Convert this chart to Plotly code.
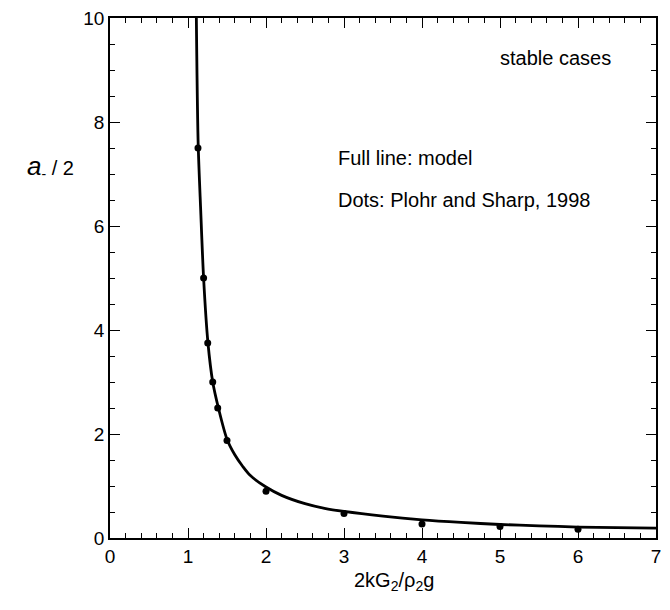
import plotly.graph_objects as go

# Model curve
model_x = [1.107, 1.13, 1.163, 1.2, 1.256, 1.317, 1.39, 1.5, 1.6, 1.7, 1.8, 2.0, 2.2, 2.5, 2.75, 3.0, 3.5, 4.0, 4.5, 5.0, 5.5, 6.0, 6.5, 7.0]
model_y = [10.0, 7.6, 6.3, 5.0, 3.75, 3.0, 2.5, 1.9, 1.6, 1.38, 1.2, 0.98, 0.82, 0.66, 0.57, 0.51, 0.42, 0.35, 0.3, 0.26, 0.235, 0.21, 0.2, 0.19]

# Plohr and Sharp, 1998 dots
dots_x = [1.128, 1.2, 1.253, 1.317, 1.381, 1.5, 2.0, 3.0, 4.0, 5.0, 6.0]
dots_y = [7.5, 5.0, 3.75, 3.0, 2.5, 1.875, 0.9, 0.47, 0.27, 0.22, 0.17]

x_ticks = [0, 1, 2, 3, 4, 5, 6, 7]
y_ticks = [0, 2, 4, 6, 8, 10]

FONT = "Liberation Sans, Arial, sans-serif"

fig = go.Figure()
fig.add_trace(go.Scatter(x=model_x, y=model_y, mode="lines",
                         line=dict(color="black", width=2.8, shape="spline", smoothing=0.8),
                         hoverinfo="skip", showlegend=False))
fig.add_trace(go.Scatter(x=dots_x, y=dots_y, mode="markers",
                         marker=dict(color="black", size=7), showlegend=False))

axis_common = dict(
    showgrid=False, zeroline=False, showline=True, linecolor="black", linewidth=1.5,
    mirror="ticks", ticks="inside", ticklen=10, tickwidth=1.3, tickcolor="black",
    tickfont=dict(family=FONT, size=19, color="black"), automargin=False,
    ticklabeloverflow="allow",
)
fig.update_xaxes(range=[0, 7], tickvals=x_ticks, ticktext=[str(v) for v in x_ticks],
                 minor=dict(dtick=0.2, tick0=0, ticks="inside", ticklen=5, tickwidth=1, tickcolor="black"),
                 **axis_common)
fig.update_yaxes(range=[0, 10], tickvals=y_ticks, ticktext=[str(v) for v in y_ticks],
                 minor=dict(dtick=0.5, tick0=0, ticks="inside", ticklen=5, tickwidth=1, tickcolor="black"),
                 **axis_common)

anns = [
    dict(x=6.45, y=9.23, xanchor="right", text="stable cases"),
    dict(x=2.9, y=7.31, xanchor="left", text="Full line: model"),
    dict(x=2.9, y=6.5, xanchor="left", text="Dots: Plohr and Sharp, 1998"),
]
for a in anns:
    fig.add_annotation(xref="x", yref="y", yanchor="middle", showarrow=False,
                       font=dict(family=FONT, size=20, color="black"), **a)

# axis titles
fig.add_annotation(xref="paper", yref="paper", x=0.52, y=-0.083, xanchor="center", yanchor="middle",
                   showarrow=False, text="2kG<sub>2</sub>/ρ<sub>2</sub>g",
                   font=dict(family=FONT, size=20, color="black"))
fig.add_annotation(xref="paper", yref="paper", x=-0.063, y=0.715, xanchor="right", yanchor="middle",
                   showarrow=False, text="<i><span style='font-size:26px'>a</span></i><sub>-</sub> / 2",
                   font=dict(family=FONT, size=20, color="black"))

fig.update_layout(
    width=670, height=610,
    margin=dict(l=102, r=22, t=10, b=80, autoexpand=False),
    paper_bgcolor="white", plot_bgcolor="white",
    font=dict(family=FONT, color="black"),
)

fig.write_html("out.html")
